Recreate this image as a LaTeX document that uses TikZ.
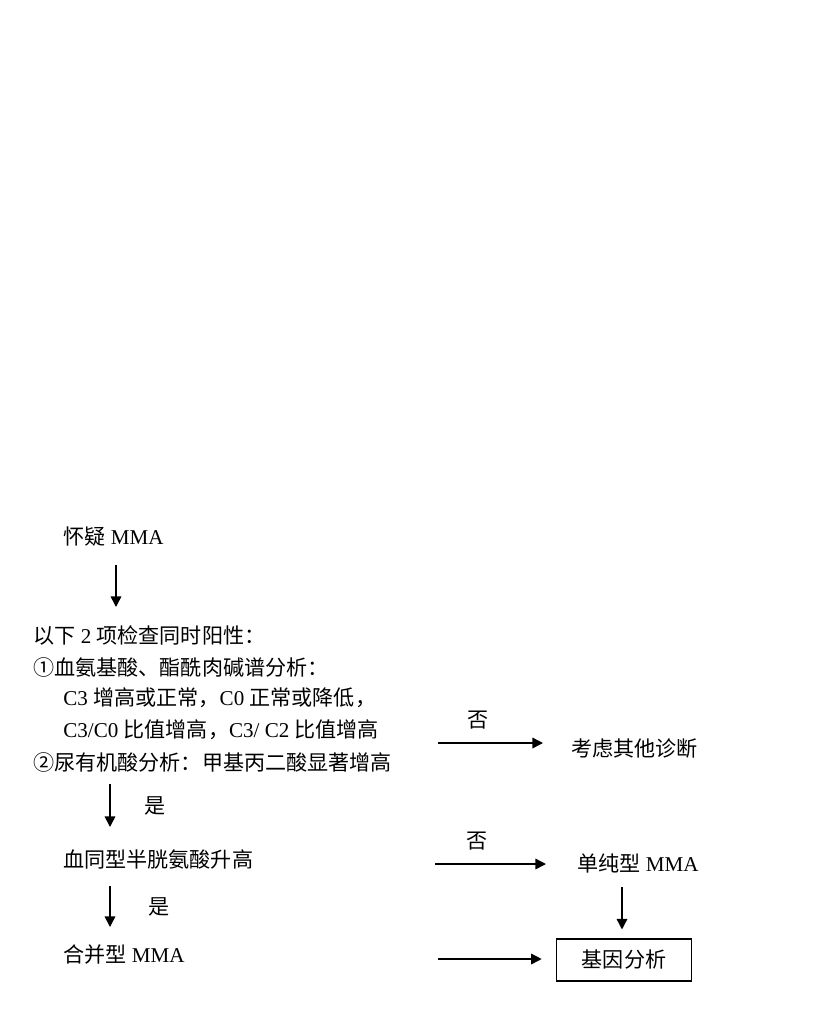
\documentclass[tikz,border=0pt]{standalone}
\usepackage{fontspec}
\setmainfont{Liberation Serif}
\newfontfamily\cjk{Noto Sans CJK SC}
\newcommand\zh[1]{{\cjk #1}}
\usetikzlibrary{arrows.meta,positioning}

\begin{document}
\begin{tikzpicture}
	[x=0.02cm,y=-0.02cm,font=\fontsize{12pt}{14pt}\selectfont,
	txt/.style={anchor=west,inner sep=0pt},
	arr/.style={line width=0.85pt,-{Triangle[length=6pt,width=6pt]}},
	gbox/.style={draw,line width=0.85pt,minimum width=2.7cm,minimum height=0.84cm,inner sep=0pt}]
	\useasboundingbox (0,0) rectangle (831,1012);
	
	% left column
	\node[txt] (susp) at (63,537) {\zh{怀疑} MMA};
	\node[txt] (crit) at (33,635) {\zh{以下} 2 \zh{项检查同时阳性：}};
	\node[txt] (crit1) at (33,667) {\zh{①血氨基酸、酯酰肉碱谱分析：}};
	\node[txt] (crit1a) at (63,698) {C3 \zh{增高或正常，}C0 \zh{正常或降低，}};
	\node[txt] (crit1b) at (63,730) {C3/C0 \zh{比值增高，}C3/ C2 \zh{比值增高}};
	\node[txt] (crit2) at (33,762) {\zh{②尿有机酸分析：甲基丙二酸显著增高}};
	\node[txt] (hcy) at (63,859) {\zh{血同型半胱氨酸升高}};
	\node[txt] (comb) at (63,955) {\zh{合并型} MMA};
	
	% right column
	\node[txt] (other) at (571,749) {\zh{考虑其他诊断}};
	\node[txt] (pure) at (577,863) {\zh{单纯型} MMA};
	\node[gbox] (gene) at (624,960) {\zh{基因分析}};
	
	% arrow ends
	\coordinate (s1) at (116,565);  \coordinate (t1) at (116,607);
	\coordinate (s2) at (110,784);  \coordinate (t2) at (110,827);
	\coordinate (s3) at (110,886);  \coordinate (t3) at (110,927);
	\coordinate (n1) at (438,743);  \coordinate (m1) at (543,743);
	\coordinate (n2) at (435,864);  \coordinate (m2) at (546,864);
	\coordinate (n3) at (438,959);
	\coordinate (d1) at (622,887);
	
	\draw[arr] (s1) to (t1);
	\draw[arr] (s2) to node [right=16pt] {\zh{是}} (t2);
	\draw[arr] (s3) to node [right=18pt] {\zh{是}} (t3);
	\draw[arr] (n1) to node [above=4pt,pos=.38] {\zh{否}} (m1);
	\draw[arr] (n2) to node [above=4pt,pos=.38] {\zh{否}} (m2);
	\draw[arr,shorten >=5pt] (d1) to (d1 |- gene.north);
	\draw[arr,shorten >=8pt] (n3) to (n3 -| gene.west);
	\end{tikzpicture}
\end{document}
